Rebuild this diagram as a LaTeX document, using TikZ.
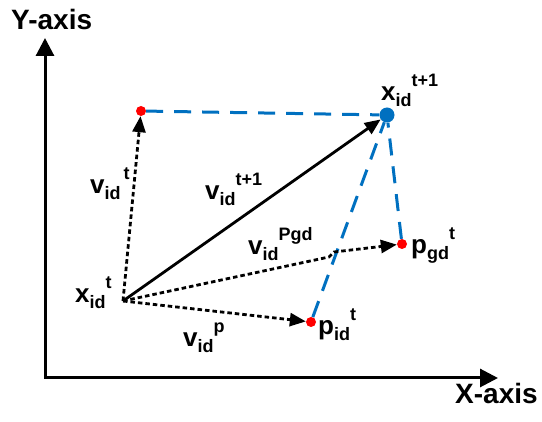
\documentclass[tikz,border=0pt]{standalone}
\usepackage{fontspec}
\setmainfont{Liberation Sans}
\usetikzlibrary{arrows.meta}
\definecolor{linkblue}{RGB}{0,112,192}
\newcommand{\vsym}[3]{#1\raisebox{-6pt}{\fontsize{18}{18}\selectfont #2}\raisebox{14pt}{\fontsize{18}{18}\selectfont #3}}

\begin{document}
\begin{tikzpicture}[
    x=1pt, y=-1pt,
    font=\bfseries\fontsize{26}{26}\selectfont,
    lbl/.style={inner sep=0pt, anchor=base west},
    axlbl/.style={lbl, font=\bfseries\fontsize{28}{28}\selectfont},
    axis/.style={line width=3pt, {Triangle[length=18pt,width=18pt]}-{Triangle[length=18pt,width=18pt]}},
    vec/.style={line width=2.8pt, -{Triangle[length=16pt,width=13pt]}},
    dotvec/.style={vec, dash pattern=on 4.5pt off 3pt},
    link/.style={linkblue, line width=3pt, dash pattern=on 17pt off 11pt},
    reddot/.style={circle, fill=red, inner sep=0pt, minimum size=10pt},
    bluedot/.style={circle, fill=linkblue, inner sep=0pt, minimum size=15pt}
  ]
  \useasboundingbox (0,0) rectangle (542,422);

  \coordinate (origin) at (45,378);
  \coordinate (ytip)   at (45,38);
  \coordinate (xtip)   at (498,378);
  \coordinate (xt)     at (123,301);
  \coordinate (kinka)  at (329,257);
  \coordinate (kinkb)  at (334,252);

  \node[reddot]  (vt)  at (141,111) {};
  \node[bluedot] (xt1) at (387,115) {};
  \node[reddot]  (pgd) at (402,244) {};
  \node[reddot]  (pid) at (311,322) {};

  \draw[axis] (ytip) -- (origin) -- (xtip);

  \draw[link] (vt) -- (xt1);
  \draw[link] (pid) -- (xt1);
  \draw[link] (pgd) -- (xt1);

  \draw[dotvec] (xt) -- (vt);
  \draw[vec] (xt) -- (xt1);
  \draw[dotvec] (xt) -- (kinka) -- (kinkb) -- (pgd);
  \draw[dotvec] (xt) -- (pid);

  \node[axlbl] (ylbl)  at (11,30)   {Y-axis};
  \node[axlbl] (xlbl)  at (455,404) {X-axis};
  \node[lbl]   (lxt)   at (75,303)  {\vsym{x}{id}{t}};
  \node[lbl]   (lvt)   at (90,194)  {\vsym{v}{id}{\,t}};
  \node[lbl]   (lvt1)  at (205,200) {\vsym{v}{id}{t+1}};
  \node[lbl]   (lvpgd) at (248,255) {\vsym{v}{id}{Pgd}};
  \node[lbl]   (lvp)   at (183,347) {\vsym{v}{id}{p}};
  \node[lbl]   (lpid)  at (318,335) {\vsym{p}{id}{t}};
  \node[lbl]   (lxt1)  at (381,101) {\vsym{x}{id}{t+1}};
  \node[lbl]   (lpgd)  at (411,254) {\vsym{p}{gd}{t}};
\end{tikzpicture}
\end{document}
